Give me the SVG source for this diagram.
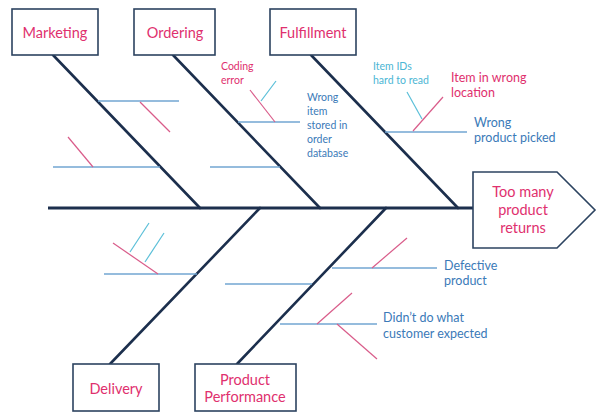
<svg xmlns="http://www.w3.org/2000/svg" width="600" height="418" viewBox="0 0 600 418">
<style>
.bg{fill:#ffffff}
.box{fill:#ffffff;stroke:#2c4360;stroke-width:1.6}
.bone{stroke:#1c2f4d;stroke-width:2.6;fill:none;stroke-linecap:round}
.spine{stroke:#1c2f4d;stroke-width:3;fill:none}
.sub{stroke:#72a6d2;stroke-width:1.6;fill:none}
.pk{stroke:#d95c8a;stroke-width:1.2;fill:none}
.cy{stroke:#5bbfd8;stroke-width:1.2;fill:none}
text{font-family:Lato,"Open Sans","Liberation Sans",sans-serif}
.ttl{fill:#e0306e;font-size:14.5px;text-anchor:middle}
.pkt{fill:#e0306e;font-size:12.5px}
.pks{fill:#e0306e;font-size:10.5px}
.blt{fill:#3b7ab8;font-size:12.5px}
.bls{fill:#3b7ab8;font-size:10.5px}
.cyt{fill:#4cb6d4;font-size:10.5px}
</style>
<rect class="bg" x="0" y="0" width="600" height="418"/>
<g id="connectors">
<line class="spine" x1="48" y1="208" x2="473" y2="208"/>
<line class="bone" x1="53" y1="55" x2="200" y2="208"/>
<line class="bone" x1="173" y1="55" x2="320" y2="208"/>
<line class="bone" x1="311" y1="55" x2="458" y2="208"/>
<line class="bone" x1="260" y1="208" x2="110" y2="364"/>
<line class="bone" x1="386" y1="208" x2="237" y2="364"/>
<line class="sub" x1="98" y1="101" x2="179" y2="101"/>
<line class="pk" x1="140" y1="102" x2="170" y2="132"/>
<line class="sub" x1="53" y1="167" x2="160" y2="167"/>
<line class="pk" x1="68" y1="137" x2="93" y2="167"/>
<line class="sub" x1="238" y1="122" x2="300" y2="122"/>
<line class="pk" x1="250" y1="90" x2="275" y2="122"/>
<line class="cy" x1="261" y1="101" x2="276" y2="81"/>
<line class="sub" x1="210" y1="167" x2="280" y2="167"/>
<line class="sub" x1="385" y1="132" x2="467" y2="132"/>
<line class="cy" x1="407" y1="92" x2="422" y2="119"/>
<line class="pk" x1="413" y1="131" x2="443" y2="97"/>
<line class="sub" x1="104" y1="274" x2="197" y2="274"/>
<line class="pk" x1="113" y1="243" x2="158" y2="274"/>
<line class="cy" x1="130" y1="252" x2="149" y2="223"/>
<line class="cy" x1="145" y1="262" x2="164" y2="233"/>
<line class="sub" x1="225" y1="284" x2="312" y2="284"/>
<line class="sub" x1="332" y1="268" x2="437" y2="268"/>
<line class="pk" x1="372" y1="268" x2="407" y2="238"/>
<line class="sub" x1="280" y1="324" x2="377" y2="324"/>
<line class="pk" x1="317" y1="324" x2="352" y2="293"/>
<line class="pk" x1="337" y1="324" x2="377" y2="359"/>
</g>
<g id="marketing">
<rect class="box" x="12" y="9" width="86" height="46"/>
<text class="ttl" x="55" y="38">Marketing</text>
</g>
<g id="ordering">
<rect class="box" x="134" y="9" width="81" height="46"/>
<text class="ttl" x="175" y="38">Ordering</text>
</g>
<g id="fulfillment">
<rect class="box" x="270" y="9" width="86" height="46"/>
<text class="ttl" x="313" y="38">Fulfillment</text>
</g>
<g id="delivery">
<rect class="box" x="73" y="364" width="86" height="47"/>
<text class="ttl" x="116" y="394">Delivery</text>
</g>
<g id="product-performance">
<rect class="box" x="195" y="364" width="101" height="47"/>
<text class="ttl" x="245" y="385">Product</text>
<text class="ttl" x="245" y="402">Performance</text>
</g>
<g id="effect">
<polygon class="box" points="473,172 557,172 595,210 557,248 473,248"/>
<text class="ttl" x="523" y="197">Too many</text>
<text class="ttl" x="523" y="215">product</text>
<text class="ttl" x="523" y="233">returns</text>
</g>
<g id="labels">
<text class="pks" x="221" y="70">Coding</text>
<text class="pks" x="221" y="84">error</text>
<text class="bls" x="307" y="101">Wrong</text>
<text class="bls" x="307" y="115">item</text>
<text class="bls" x="307" y="129">stored in</text>
<text class="bls" x="307" y="143">order</text>
<text class="bls" x="307" y="157">database</text>
<text class="cyt" x="373" y="70">Item IDs</text>
<text class="cyt" x="373" y="84">hard to read</text>
<text class="pkt" x="451" y="82">Item in wrong</text>
<text class="pkt" x="451" y="97">location</text>
<text class="blt" x="474" y="127">Wrong</text>
<text class="blt" x="474" y="142">product picked</text>
<text class="blt" x="444" y="270">Defective</text>
<text class="blt" x="444" y="285">product</text>
<text class="blt" x="383" y="322">Didn’t do what</text>
<text class="blt" x="383" y="338">customer expected</text>
</g>
</svg>
